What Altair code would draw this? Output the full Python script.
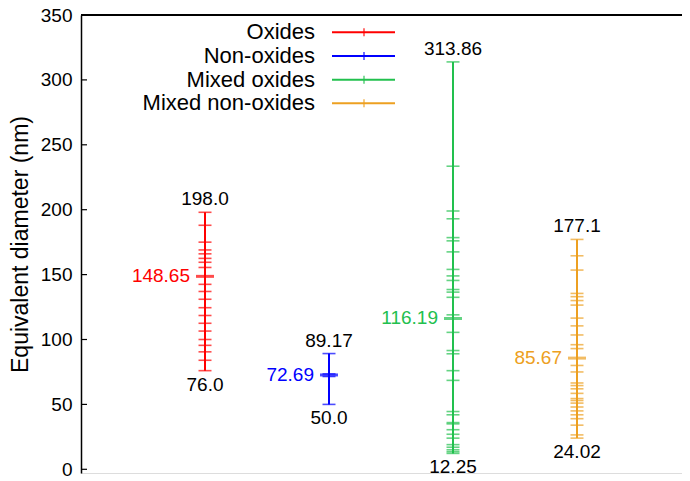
import altair as alt
import pandas as pd

# ---- data ----
names = ["Oxides", "Non-oxides", "Mixed oxides", "Mixed non-oxides"]
colors = ["#FF0000", "#0000FF", "#22C04E", "#EDA021"]
positions = [1, 2, 3, 4]

oxides = [198.0, 188, 175, 169, 166, 162.5, 159.5, 155.5, 142.5, 137, 131,
          124.5, 118.5, 112.5, 106.5, 100, 95.5, 90.5, 84, 76.0]
non_oxides = [89.17, 73.5, 71.5, 50.0]
mixed_oxides = [313.86, 233.5, 199, 193, 178.5, 176, 167.5, 154, 149, 145.5,
                138.5, 136.5, 132.5, 119, 105.5, 91.5, 89, 76, 68.5, 44.5, 42,
                36, 35, 30.5, 27, 24, 19, 17, 15, 13.5, 12.25]
mixed_non_oxides = [177.1, 164.5, 153.5, 135.5, 133, 130, 126.5, 116.5, 110.5,
                    103.5, 96, 93, 80, 75, 66.5, 64.5, 62, 58.5, 54.5, 53, 51,
                    48, 45, 42, 39, 34, 26.5, 24.02]
means = [148.65, 72.69, 116.19, 85.67]
max_labels = ["198.0", "89.17", "313.86", "177.1"]
min_labels = ["76.0", "50.0", "12.25", "24.02"]
mean_labels = ["148.65", "72.69", "116.19", "85.67"]
y_ticks = [0, 50, 100, 150, 200, 250, 300, 350]

series_vals = [oxides, non_oxides, mixed_oxides, mixed_non_oxides]

# ---- tables ----
tick_rows = []
for n, p, vals in zip(names, positions, series_vals):
    for v in vals:
        tick_rows.append({"series": n, "pos": p, "val": v})
ticks_df = pd.DataFrame(tick_rows)

summary_df = pd.DataFrame({
    "series": names,
    "pos": positions,
    "lo": [min(v) for v in series_vals],
    "hi": [max(v) for v in series_vals],
    "mean": means,
    "max_label": max_labels,
    "min_label": min_labels,
    "mean_label": mean_labels,
})
legend_df = pd.DataFrame({"series": names, "row": list(range(len(names)))})
axis_df = pd.DataFrame({"y": y_ticks})

FONT = "Liberation Sans"
W, H = 601, 458
xscale = alt.Scale(domain=[0, 601 / 124], nice=False, zero=False)
yscale = alt.Scale(domain=[-2.85, 350], nice=False, zero=False)
cscale = alt.Scale(domain=names, range=colors)

X = alt.X("pos:Q", scale=xscale, axis=None)

lines = alt.Chart(summary_df).mark_rule(strokeWidth=2).encode(
    x=X,
    y=alt.Y("lo:Q", scale=yscale,
            axis=alt.Axis(values=y_ticks, title="Equivalent diameter (nm)",
                          ticks=False, grid=False, domainColor="black",
                          domainWidth=1.5, labelFont=FONT, labelFontSize=19,
                          labelColor="black", labelPadding=9,
                          titleFont=FONT, titleFontSize=23,
                          titleFontWeight="normal", titleColor="black",
                          titlePadding=8)),
    y2="hi:Q",
    color=alt.Color("series:N", scale=cscale, legend=None),
)

ticks = alt.Chart(ticks_df).mark_tick(orient="horizontal", size=13, thickness=1.6).encode(
    x=X,
    y=alt.Y("val:Q", scale=yscale),
    color=alt.Color("series:N", scale=cscale, legend=None),
)

mean_ticks = alt.Chart(summary_df).mark_tick(orient="horizontal", size=18, thickness=3).encode(
    x=X,
    y=alt.Y("mean:Q", scale=yscale),
    color=alt.Color("series:N", scale=cscale, legend=None),
)

max_text = alt.Chart(summary_df).mark_text(
    font=FONT, fontSize=19, baseline="alphabetic", dy=-7, color="black"
).encode(x=X, y=alt.Y("hi:Q", scale=yscale), text="max_label:N")

min_text = alt.Chart(summary_df).mark_text(
    font=FONT, fontSize=19, baseline="top", dy=5, color="black"
).encode(x=X, y=alt.Y("lo:Q", scale=yscale), text="min_label:N")

mean_text = alt.Chart(summary_df).mark_text(
    font=FONT, fontSize=19, baseline="middle", align="right", dx=-15
).encode(
    x=X, y=alt.Y("mean:Q", scale=yscale), text="mean_label:N",
    color=alt.Color("series:N", scale=cscale, legend=None),
)

# inward y-axis ticks
axis_ticks = alt.Chart(axis_df).mark_rule(color="black", strokeWidth=1.2).encode(
    x=alt.value(0), x2=alt.value(6),
    y=alt.Y("y:Q", scale=yscale),
)

# top frame line
top_line = alt.Chart(axis_df).mark_rule(color="black", strokeWidth=1.5).encode(
    x=alt.value(0), x2=alt.value(W), y=alt.value(0)
)

# legend (manual, labels left of samples)
LY = alt.Y("row:Q", scale=alt.Scale(domain=[0, 3], range=[17.3, 88.3]), axis=None)
leg_text = alt.Chart(legend_df).mark_text(
    font=FONT, fontSize=22, align="right", baseline="middle", color="black"
).encode(x=alt.value(234), y=LY, text="series:N")
leg_line = alt.Chart(legend_df).mark_rule(strokeWidth=2).encode(
    x=alt.value(251), x2=alt.value(314), y=LY,
    color=alt.Color("series:N", scale=cscale, legend=None),
)
leg_tick = alt.Chart(legend_df).mark_tick(orient="vertical", size=8, thickness=1.6).encode(
    x=alt.value(283), y=LY,
    color=alt.Color("series:N", scale=cscale, legend=None),
)
legend = alt.layer(leg_line, leg_tick, leg_text)

main = alt.layer(axis_ticks, top_line, lines, ticks, mean_ticks, max_text, min_text, mean_text)

chart = alt.layer(main, legend).resolve_scale(y="independent").properties(
    width=W, height=H,
    autosize=alt.AutoSizeParams(type="none"),
    padding={"left": 73, "top": 7, "right": 0, "bottom": 8},
).configure_view(stroke=None).configure(background="white")

chart.save("out.html", embed_options={"renderer": "svg", "actions": False})
